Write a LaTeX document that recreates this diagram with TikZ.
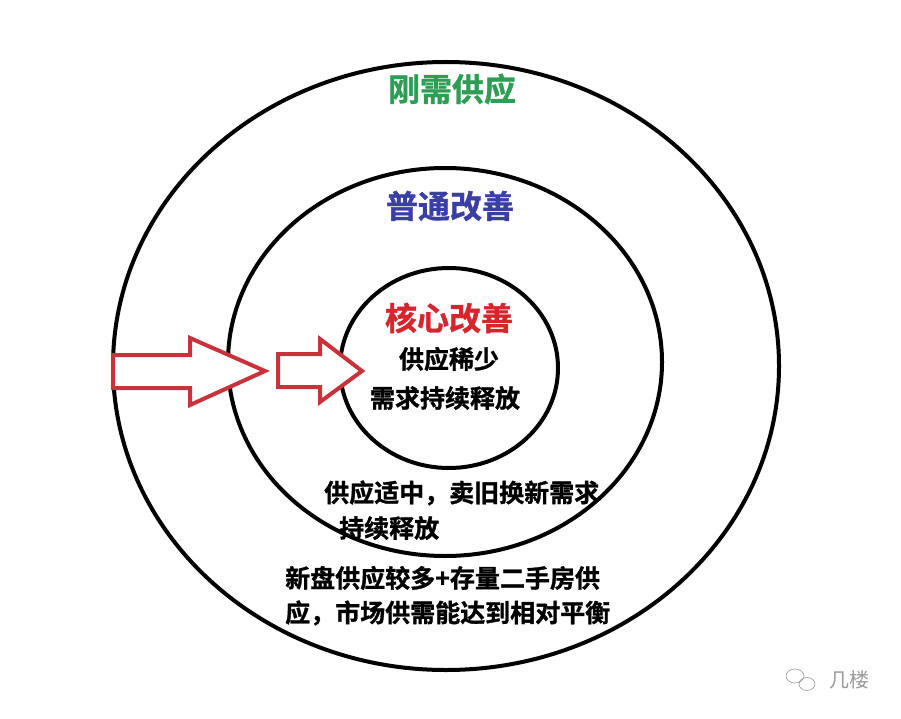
\documentclass[tikz,border=0pt]{standalone}
\usepackage{fontspec}
\newfontfamily\cjk{Noto Sans CJK SC}[BoldFont={Noto Sans CJK SC Bold},BoldFeatures={FakeBold=1.2}]
\definecolor{ring}{HTML}{000000}
\definecolor{arrowred}{HTML}{C8323A}
\definecolor{tgreen}{HTML}{2E9E55}
\definecolor{tblue}{HTML}{3A3FA6}
\definecolor{tred}{HTML}{D5262E}
\definecolor{wm}{HTML}{9A9A9A}
\begin{document}
\begin{tikzpicture}[x=1pt,y=-1pt,
  ringline/.style={draw=ring,line width=4pt},
  bigarrow/.style={draw=arrowred,line width=4pt,line join=miter,fill=white},
  title/.style={font=\cjk\bfseries\fontsize{32}{36}\selectfont,inner sep=0pt},
  body/.style={font=\cjk\bfseries\fontsize{25}{35}\selectfont,inner sep=0pt,text=black}]
\useasboundingbox[fill=white] (0,0) rectangle (901,719);
% rings
\draw[ringline] (446,366) ellipse [x radius=333, y radius=304];
\draw[ringline] (445,362) ellipse [x radius=217, y radius=194];
\draw[ringline] (449,368) ellipse [x radius=109, y radius=100];
% arrows
\draw[bigarrow] (113,355) -- (190,355) -- (190,338) -- (265,371) -- (190,405) -- (190,388) -- (113,388) -- cycle;
\draw[bigarrow] (278,354) -- (320,354) -- (320,339) -- (362,371) -- (320,402) -- (320,387) -- (278,387) -- cycle;
% titles
\node[title,text=tgreen] (t1) at (452,89) {刚需供应};
\node[title,text=tblue] (t2) at (450,206) {普通改善};
\node[title,text=tred] (t3) at (449,318) {核心改善};
% body texts
\node[body] (b1) at (449,359) {供应稀少};
\node[body] (b2) at (445,398) {需求持续释放};
\node[body,anchor=west] (b3) at (324,493) {供应适中，卖旧换新需求};
\node[body,anchor=west] (b4) at (339,528) {持续释放};
\node[body,anchor=west] (b5) at (285,578) {新盘供应较多+存量二手房供};
\node[body,anchor=west] (b6) at (285,613) {应，市场供需能达到相对平衡};
% watermark
\draw[wm,line width=0.6pt] (795,676) circle [x radius=9, y radius=7];
\draw[wm,line width=0.6pt] (807,684) circle [x radius=8, y radius=6.5];
\node[font=\cjk\fontsize{20}{24}\selectfont,text=wm,anchor=west] (wmk) at (826,680) {几楼};
\end{tikzpicture}
\end{document}
